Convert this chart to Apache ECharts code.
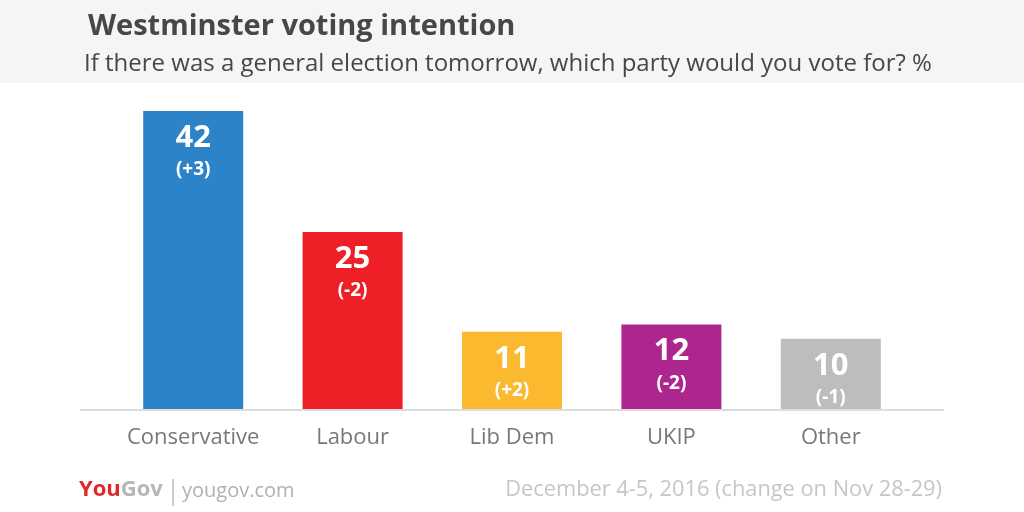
<!DOCTYPE html>
<html><head><meta charset="utf-8">
<script src="https://cdn.jsdelivr.net/npm/echarts@6/dist/echarts.min.js"></script>
<style>html,body{margin:0;padding:0;background:#fff}#c{width:1024px;height:512px}</style>
</head><body><div id="c"></div>
<script>
const categories = ['Conservative', 'Labour', 'Lib Dem', 'UKIP', 'Other'];
const values = [42, 25, 11, 12, 10];
const changes = ['(+3)', '(-2)', '(+2)', '(-2)', '(-1)'];
const colors = ['#2c83c8', '#ee1f26', '#fbb92f', '#ad268e', '#bdbdbd'];

const FONT = '"Open Sans", Lato, sans-serif';
const chart = echarts.init(document.getElementById('c'), null, {renderer: 'canvas'});
chart.setOption({
  backgroundColor: '#ffffff',
  animation: false,
  title: [
    {text: 'Westminster voting intention', left: 83, top: 7,
     textStyle: {fontFamily: FONT, fontSize: 29, fontWeight: 'bold', color: '#474747'}},
    {text: 'If there was a general election tomorrow, which party would you vote for? %', left: 79, top: 47,
     textStyle: {fontFamily: FONT, fontSize: 24, fontWeight: 'normal', color: '#474747'}}
  ],
  graphic: [
    {type: 'rect', left: 0, top: 0, z: -10, shape: {width: 1024, height: 83}, style: {fill: '#f4f5f7'}},
    {type: 'line', z: 10, shape: {x1: 80, y1: 410, x2: 944, y2: 410}, style: {stroke: '#dddddd', lineWidth: 2}},
    {type: 'text', left: 79, top: 479, style: {text: '{r|You}{g|Gov}', rich: {
      r: {fontFamily: FONT, fontSize: 22, fontWeight: 'bold', fill: '#e0272a'},
      g: {fontFamily: FONT, fontSize: 22, fontWeight: 'bold', fill: '#b6b6b6'}}}},
    {type: 'line', shape: {x1: 173, y1: 479, x2: 173, y2: 506}, style: {stroke: '#bbbbbb', lineWidth: 1.5}},
    {type: 'text', left: 182, top: 481, style: {text: 'yougov.com', fontFamily: FONT, fontSize: 20, fill: '#b0b0b0'}},
    {type: 'text', right: 82, top: 479, style: {text: 'December 4-5, 2016 (change on Nov 28-29)', fontFamily: FONT, fontSize: 21.8, fill: '#c6c6c6'}}
  ],
  grid: {left: 113.5, right: 113.5, top: 111, bottom: 102},
  xAxis: {
    type: 'category', data: categories,
    axisLine: {show: false}, axisTick: {show: false},
    axisLabel: {interval: 0, fontFamily: FONT, fontSize: 22, color: '#787878', margin: 17}
  },
  yAxis: {type: 'value', min: 0, max: 42, show: false, splitLine: {show: false}},
  series: [{
    type: 'bar', barWidth: 100,
    data: values.map((v, i) => ({value: v, itemStyle: {color: colors[i]}})),
    label: {
      show: true, position: 'insideTop', distance: 9,
      formatter: p => '{v|' + p.value + '}\n{c|' + changes[p.dataIndex] + '}',
      rich: {
        v: {fontFamily: FONT, fontSize: 31, fontWeight: 'bold', color: '#fff', lineHeight: 36, align: 'center'},
        c: {fontFamily: FONT, fontSize: 19, fontWeight: 'bold', color: '#fff', lineHeight: 28, align: 'center'}
      }
    }
  }]
});
</script></body></html>
